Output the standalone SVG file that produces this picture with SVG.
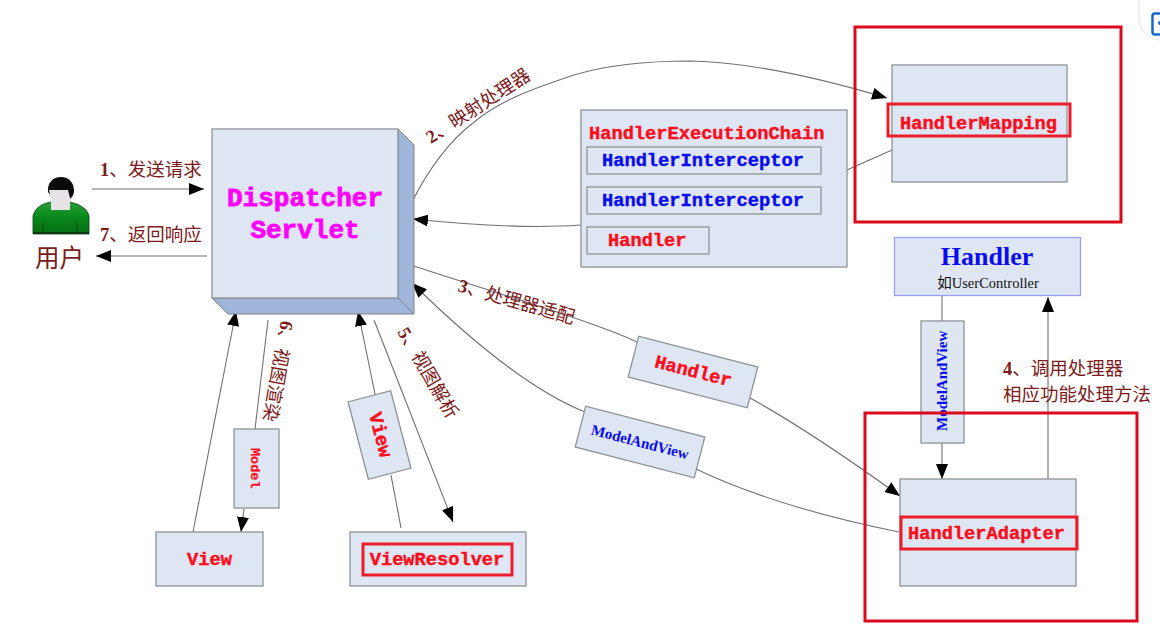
<svg xmlns="http://www.w3.org/2000/svg" width="1160" height="632" viewBox="0 0 1160 632">
<style>
.box{fill:#dfe6f3;stroke:#8f9295;stroke-width:1.3}
.ln{fill:none;stroke:#6f7174;stroke-width:1.1}
.arr{marker-end:url(#ah)}
.mono{font-family:"Liberation Mono",monospace;font-weight:700;stroke-width:.45}
.serif{font-family:"Liberation Serif","Noto Sans CJK SC",serif}
.red{fill:#fb0d1b;stroke:#fb0d1b}
.blue{fill:#0a0cf0}
.mono.blue{stroke:#0a0cf0}
.mag{fill:#ff00ff;stroke:#ff00ff}
.lab{font-family:"Liberation Serif","Noto Sans CJK SC",serif;fill:#7c1a20;font-size:18.5px}
.b{font-weight:700}
.hl{fill:none;stroke:#ed1c2a;stroke-width:3}
.hl2{fill:none;stroke:#d90a1e;stroke-width:3}
</style>
<defs>
<marker id="ah" markerUnits="userSpaceOnUse" markerWidth="16" markerHeight="12" refX="15" refY="6" orient="auto"><path d="M0 0L15 6L0 12Z" fill="#000"/></marker>
<linearGradient id="g" x1="0" y1="0" x2="0" y2="1"><stop offset="0" stop-color="#2aa03a"/><stop offset=".45" stop-color="#0a8a1c"/><stop offset="1" stop-color="#066c14"/></linearGradient>
</defs>
<rect width="1160" height="632" fill="#fff"/>
<g id="corner-icon">
<rect x="1139" y="-20" width="60" height="60" rx="22" fill="#fff" stroke="#f0f0f3" stroke-width="2"/>
<path d="M1160 13.500H1155Q1152.500 13.500 1152.500 16V32Q1152.500 34.500 1155 34.500H1160" fill="none" stroke="#1a66d0" stroke-width="2.500"/>
<circle cx="1160" cy="23" r="2" fill="#1a66d0"/>
</g>
<g id="connectors">
<path class="ln arr" d="M92 189H204"/>
<path class="ln arr" d="M207 256H96"/>
<path class="ln arr" d="M412 202C428 170 450 140 473 123C500 100 535 88 574 75C610 64 650 61 691 61C735 62 800 72 887 98"/>
<path class="ln arr" d="M581 225C540 228 490 227 413 219"/>
<path class="ln" d="M847 170L892 150"/>
<path class="ln" d="M411 265C470 285 590 320 637 342"/>
<path class="ln arr" d="M750 398C790 420 850 460 900 496"/>
<path class="ln arr" d="M585 412C530 390 470 340 412 283"/>
<path class="ln" d="M696 469C740 490 800 512 899 532"/>
<path class="ln" d="M942 296V321"/>
<path class="ln arr" d="M942 443V479"/>
<path class="ln arr" d="M1048 479V297"/>
<path class="ln arr" d="M193 532L236 311"/>
<path class="ln" d="M268 320L255 429"/>
<path class="ln arr" d="M244 509L241 532"/>
<path class="ln arr" d="M375 394L358 311"/>
<path class="ln" d="M391 475L401 528"/>
<path class="ln arr" d="M374 320L453 522"/>
</g>
<g id="user">
<path d="M33 216C35 208 42 203 52 202H68C78 203 87 208 89 216V234H33Z" fill="url(#g)" stroke="#0c3a10" stroke-width=".8"/>
<path d="M43 222V233M77 222V233" stroke="#064d10" fill="none"/>
<path d="M33 232H89V234H33Z" fill="#0c3a10"/>
<path d="M48 192C47 183 53 177 61 177C69 177 74 183 74 191C74 195 72 198 68 200H54Z" fill="#0b0b0b"/>
<path d="M49 190H68L70 198V210H51V199Z" fill="#e6e3e6"/>
<text class="serif" x="35" y="267" font-size="24.500" fill="#7c1a20">用户</text>
</g>
<g id="dispatcher">
<path d="M398 129L414 145V314L398 298Z" fill="#a0b5da" stroke="#7f8286"/>
<path d="M212 298L228 314H414L398 298Z" fill="#a0b5da" stroke="#7f8286"/>
<rect class="box" x="212" y="129" width="186" height="169"/>
<text class="mono mag" x="305" y="206" font-size="26" text-anchor="middle" style="stroke-width:.8">Dispatcher</text>
<text class="mono mag" x="305" y="238" font-size="26" text-anchor="middle" style="stroke-width:.8">Servlet</text>
</g>
<g id="chain">
<rect class="box" x="581" y="110" width="266" height="157"/>
<text class="mono red" x="589" y="139" font-size="18.7">HandlerExecutionChain</text>
<rect class="box" x="587" y="147" width="234" height="27"/>
<text class="mono blue" x="602" y="166" font-size="18.7">HandlerInterceptor</text>
<rect class="box" x="587" y="187" width="234" height="27"/>
<text class="mono blue" x="602" y="206" font-size="18.7">HandlerInterceptor</text>
<rect class="box" x="587" y="227" width="122" height="27"/>
<text class="mono red" x="608" y="246" font-size="18.7">Handler</text>
</g>
<g id="handlermapping">
<rect class="box" x="892" y="65" width="175" height="117"/>
<rect class="hl" x="888" y="104" width="182" height="32"/>
<text class="mono red" x="900" y="129" font-size="18.7">HandlerMapping</text>
<rect class="hl2" x="855" y="27" width="266" height="195"/>
</g>
<g id="handler">
<rect x="894.500" y="237.500" width="186" height="58" fill="#dfe6f3" stroke="#9a9ffb" stroke-width="1.3"/>
<text class="serif b blue" x="987" y="265" font-size="26" text-anchor="middle">Handler</text>
<text class="serif" x="988" y="288" font-size="14.500" text-anchor="middle" fill="#111">如UserController</text>
</g>
<g id="mav-v">
<rect class="box" x="921" y="321" width="43" height="122"/>
<text class="serif b blue" transform="translate(947 431) rotate(-90)" font-size="15">ModelAndView</text>
</g>
<g id="handleradapter">
<rect class="box" x="900" y="479" width="176" height="107"/>
<rect class="hl" x="901" y="517" width="176" height="32"/>
<text class="mono red" x="908" y="539" font-size="18.7">HandlerAdapter</text>
</g>
<rect class="hl2" x="865" y="413" width="272" height="208"/>
<g id="handler-label">
<g transform="translate(693 372) rotate(14.500)">
<rect class="box" x="-61.500" y="-21" width="123" height="42"/>
<text class="mono red" x="0" y="5" font-size="18.7" text-anchor="middle">Handler</text>
</g>
</g>
<g id="mav-label">
<g transform="translate(640 442) rotate(14.500)">
<rect class="box" x="-61.500" y="-21" width="123" height="42"/>
<text class="serif b blue" x="0" y="5" font-size="15" text-anchor="middle">ModelAndView</text>
</g>
</g>
<g id="view">
<rect class="box" x="156" y="532" width="107" height="54"/>
<text class="mono red" x="209.500" y="565" font-size="18.7" text-anchor="middle">View</text>
</g>
<g id="viewresolver">
<rect class="box" x="350" y="532" width="176" height="54"/>
<rect class="hl" x="363" y="544" width="149" height="31"/>
<text class="mono red" x="437" y="565" font-size="18.7" text-anchor="middle">ViewResolver</text>
</g>
<g id="model-label">
<rect class="box" x="234" y="429" width="45" height="79"/>
<text class="mono red" transform="translate(251 448) rotate(90)" font-size="13.500" style="stroke-width:.2">Model</text>
</g>
<g id="view-label">
<g transform="translate(379.500 435) rotate(-14.700)">
<rect class="box" x="-22" y="-40" width="44" height="80"/>
<text class="mono red" transform="rotate(90)" x="0" y="5" font-size="19" text-anchor="middle">View</text>
</g>
</g>
<g id="labels">
<text class="lab" x="100" y="176"><tspan class="b">1</tspan>、发送请求</text>
<text class="lab" x="100" y="241"><tspan class="b">7</tspan>、返回响应</text>
<text class="lab" transform="translate(431 144) rotate(-33)"><tspan class="b">2</tspan>、映射处理器</text>
<text class="lab" transform="translate(457 291) rotate(16)"><tspan class="b">3</tspan>、处理器适配</text>
<text class="lab" transform="translate(397 332) rotate(60)"><tspan class="b">5</tspan>、视图解析</text>
<text class="lab" transform="translate(281 320) rotate(100)"><tspan class="b">6</tspan>、视图渲染</text>
<text class="lab" x="1003" y="375"><tspan class="b">4</tspan>、调用处理器</text>
<text class="lab" x="1003" y="401">相应功能处理方法</text>
</g>
</svg>
